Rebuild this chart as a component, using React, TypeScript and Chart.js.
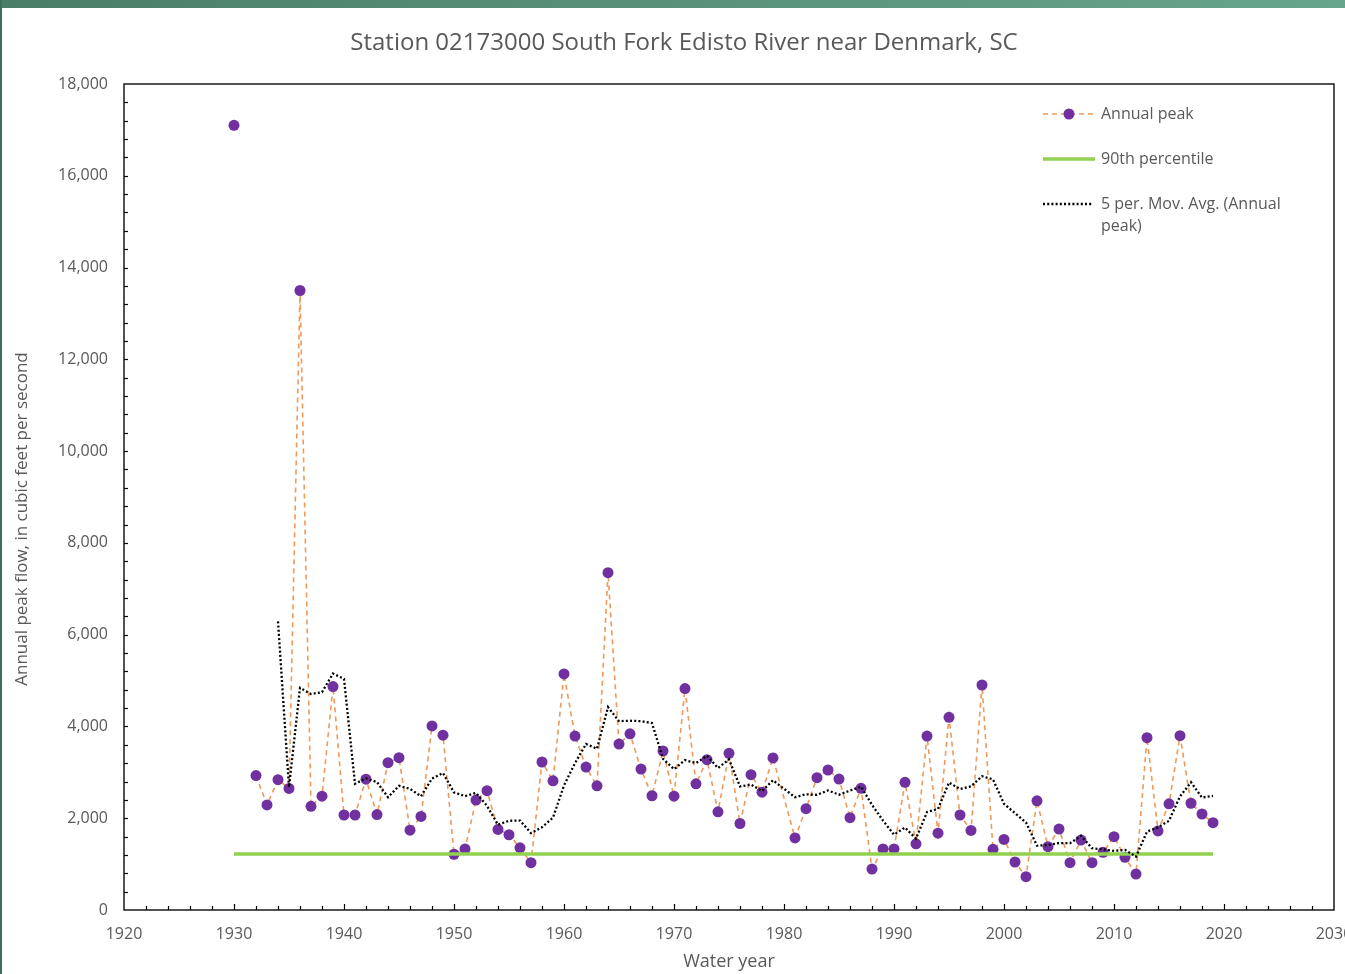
import React, { useEffect, useRef } from "react";
import { Chart, registerables } from "chart.js";

Chart.register(...registerables);

const years: number[] = [
  1930, 1931, 1932, 1933, 1934, 1935, 1936, 1937, 1938, 1939,
  1940, 1941, 1942, 1943, 1944, 1945, 1946, 1947, 1948, 1949,
  1950, 1951, 1952, 1953, 1954, 1955, 1956, 1957, 1958, 1959,
  1960, 1961, 1962, 1963, 1964, 1965, 1966, 1967, 1968, 1969,
  1970, 1971, 1972, 1973, 1974, 1975, 1976, 1977, 1978, 1979,
  1981, 1982, 1983, 1984, 1985, 1986, 1987, 1988, 1989,
  1990, 1991, 1992, 1993, 1994, 1995, 1996, 1997, 1998, 1999,
  2000, 2001, 2002, 2003, 2004, 2005, 2006, 2007, 2008, 2009,
  2010, 2011, 2012, 2013, 2014, 2015, 2016, 2017, 2018, 2019,
];

const annualPeak: (number | null)[] = [
  17100, null, 2930, 2290, 2840, 2650, 13500, 2260, 2480, 4870,
  2070, 2070, 2850, 2080, 3210, 3320, 1740, 2040, 4010, 3810,
  1215, 1330, 2395, 2600, 1755, 1640, 1355, 1030, 3225, 2815,
  5145, 3790, 3115, 2705, 7350, 3615, 3840, 3070, 2490, 3465,
  2480, 4825, 2750, 3275, 2140, 3415, 1885, 2950, 2568, 3315,
  1570, 2207, 2883, 3051, 2854, 2011, 2651, 893, 1329,
  1329, 2782, 1442, 3791, 1675, 4198, 2070, 1734, 4903, 1322,
  1539, 1046, 727, 2380, 1380, 1765, 1031, 1525, 1031, 1256,
  1597, 1147, 784, 3755, 1722, 2315, 3799, 2326, 2092, 1903,
];

const percentileYears: number[] = [1930, 2019];
const percentile90: number[] = [1220, 1220];

const xTickYears: number[] = [1920, 1930, 1940, 1950, 1960, 1970, 1980, 1990, 2000, 2010, 2020, 2030];
const yTickValues: number[] = [0, 2000, 4000, 6000, 8000, 10000, 12000, 14000, 16000, 18000];

const movingAvgPeriod = 5;

// Excel-style 5-period moving average trendline over the data rows (blank rows skipped in the mean)
function movingAverage(xs: number[], vals: (number | null)[], period: number) {
  const out: { x: number; y: number }[] = [];
  for (let i = period - 1; i < vals.length; i++) {
    const win = vals.slice(i - period + 1, i + 1).filter((v) => v !== null) as number[];
    if (win.length) out.push({ x: xs[i], y: win.reduce((a, b) => a + b, 0) / win.length });
  }
  return out;
}

const FONT = "'Open Sans', 'Noto Sans', sans-serif";
const GREY = "#595959";
const ORANGE = "#F0995A";
const PURPLE = "#7030A0";
const GREEN = "#92D050";

const decor = {
  id: "decor",
  beforeDraw(chart: any) {
    const { ctx, width, height } = chart;
    ctx.save();
    ctx.fillStyle = "#ffffff";
    ctx.fillRect(0, 0, width, height);
    const g = ctx.createLinearGradient(0, 0, width, 0);
    g.addColorStop(0, "#4B7D66");
    g.addColorStop(1, "#67A68A");
    ctx.fillStyle = g;
    ctx.fillRect(0, 0, width, 8);
    ctx.fillStyle = "#3E6E5C";
    ctx.fillRect(0, 0, 2, height);
    ctx.restore();
  },
  afterDraw(chart: any) {
    const { ctx, chartArea } = chart;
    const { left, right, top, bottom } = chartArea;
    const xs = chart.scales.x;
    const ys = chart.scales.y;
    ctx.save();
    // frame
    ctx.strokeStyle = "#1a1a1a";
    ctx.lineWidth = 1.5;
    ctx.strokeRect(left, top, right - left, bottom - top);
    // x tick marks (inside)
    ctx.lineWidth = 1.2;
    ctx.strokeStyle = "#000";
    for (let yr = 1922; yr < 2030; yr += 2) {
      const px = Math.round(xs.getPixelForValue(yr)) + 0.5;
      const len = yr % 10 === 0 ? 6 : 4;
      ctx.beginPath();
      ctx.moveTo(px, bottom);
      ctx.lineTo(px, bottom - len);
      ctx.stroke();
    }
    for (let v = 400; v < 18000; v += 400) {
      const py = Math.round(ys.getPixelForValue(v)) + 0.5;
      ctx.beginPath();
      ctx.moveTo(left, py);
      ctx.lineTo(left + 4, py);
      ctx.stroke();
    }
    // title
    ctx.fillStyle = GREY;
    ctx.textAlign = "center";
    ctx.textBaseline = "middle";
    ctx.font = `24px ${FONT}`;
    ctx.fillText("Station 02173000 South Fork Edisto River near Denmark, SC", 684, 43);
    // axis titles
    ctx.font = `18px ${FONT}`;
    ctx.fillText("Water year", (left + right) / 2, 962);
    ctx.font = `17px ${FONT}`;
    ctx.save();
    ctx.translate(22, 519);
    ctx.rotate(-Math.PI / 2);
    ctx.fillText("Annual peak flow, in cubic feet per second", 0, 0);
    ctx.restore();
    // legend
    ctx.font = `16px ${FONT}`;
    ctx.textAlign = "left";
    const lx0 = 1043, lx1 = 1095, tx = 1101;
    // row 1
    ctx.strokeStyle = ORANGE;
    ctx.lineWidth = 1.5;
    ctx.setLineDash([5, 4]);
    ctx.beginPath();
    ctx.moveTo(lx0, 114);
    ctx.lineTo(lx1, 114);
    ctx.stroke();
    ctx.setLineDash([]);
    ctx.fillStyle = PURPLE;
    ctx.beginPath();
    ctx.arc(1069, 114, 5.5, 0, Math.PI * 2);
    ctx.fill();
    ctx.fillStyle = GREY;
    ctx.fillText("Annual peak", tx, 114);
    // row 2
    ctx.strokeStyle = GREEN;
    ctx.lineWidth = 3.5;
    ctx.beginPath();
    ctx.moveTo(lx0, 159);
    ctx.lineTo(lx1, 159);
    ctx.stroke();
    ctx.fillText("90th percentile", tx, 159);
    // row 3
    ctx.strokeStyle = "#000";
    ctx.lineWidth = 2.3;
    ctx.setLineDash([2, 2.2]);
    ctx.beginPath();
    ctx.moveTo(lx0, 204);
    ctx.lineTo(1093, 204);
    ctx.stroke();
    ctx.setLineDash([]);
    ctx.fillText("5 per. Mov. Avg. (Annual", tx, 204);
    ctx.fillText("peak)", tx, 226);
    ctx.restore();
  },
};

export default function App() {
  const ref = useRef<HTMLCanvasElement | null>(null);
  useEffect(() => {
    if (!ref.current) return;
    const peakData = years.map((x, i) => ({ x, y: annualPeak[i] as any }));
    const pctData = percentileYears.map((x, i) => ({ x, y: percentile90[i] }));
    const maData = movingAverage(years, annualPeak, movingAvgPeriod);
    const chart = new Chart(ref.current, {
      type: "scatter",
      data: {
        datasets: [
          {
            label: "5 per. Mov. Avg. (Annual peak)",
            data: maData,
            showLine: true,
            borderColor: "#000",
            borderWidth: 2.3,
            borderDash: [2, 2.2],
            pointRadius: 0,
            order: 0,
          },
          {
            label: "90th percentile",
            data: pctData,
            showLine: true,
            borderColor: GREEN,
            borderWidth: 3.5,
            pointRadius: 0,
            order: 1,
          },
          {
            label: "Annual peak",
            data: peakData,
            showLine: true,
            spanGaps: false,
            borderColor: ORANGE,
            borderWidth: 1.6,
            borderDash: [5, 4],
            pointRadius: 5.5,
            pointBackgroundColor: PURPLE,
            pointBorderWidth: 0,
            order: 2,
          },
        ] as any,
      },
      options: {
        responsive: false,
        animation: false,
        events: [],
        layout: { padding: { left: 0, top: 84, right: 11, bottom: 0 } },
        plugins: { legend: { display: false }, tooltip: { enabled: false }, title: { display: false } },
        scales: {
          x: {
            type: "linear",
            min: 1920,
            max: 2030,
            afterFit: (s: any) => { s.height = 64; s.paddingLeft = 0; s.paddingRight = 0; },
            afterBuildTicks: (s: any) => { s.ticks = xTickYears.map((v) => ({ value: v })); },
            grid: { display: false, drawTicks: false },
            border: { display: false },
            ticks: { padding: 15, color: GREY, font: { family: FONT, size: 16 }, maxRotation: 0, autoSkip: false, callback: (v: any) => String(v) },
          },
          y: {
            type: "linear",
            min: 0,
            max: 18000,
            afterFit: (s: any) => { s.width = 124; s.paddingTop = 0; s.paddingBottom = 0; },
            afterBuildTicks: (s: any) => { s.ticks = yTickValues.map((v) => ({ value: v })); },
            grid: { display: false, drawTicks: false },
            border: { display: false },
            ticks: { padding: 16, color: GREY, font: { family: FONT, size: 16 }, callback: (v: any) => Number(v).toLocaleString("en-US") },
          },
        },
      } as any,
      plugins: [decor],
    });
    return () => chart.destroy();
  }, []);
  return (
    <canvas
      ref={ref}
      width={1345}
      height={974}
      style={{ position: "fixed", left: 0, top: 0, width: 1345, height: 974, display: "block" }}
    />
  );
}
